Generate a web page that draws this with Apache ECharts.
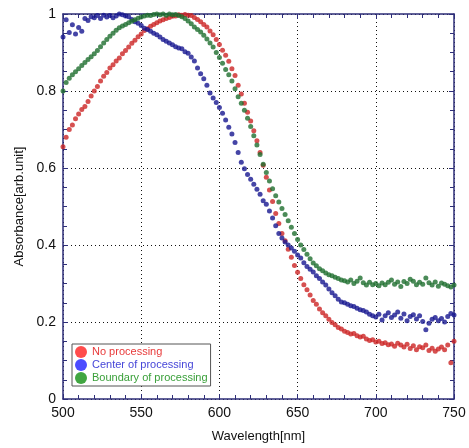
<!DOCTYPE html>
<html>
<head>
<meta charset="utf-8">
<script src="https://cdn.jsdelivr.net/npm/echarts@6/dist/echarts.min.js"></script>
<style>
    html, body { margin: 0; padding: 0; background: #fff; }
    #chart { width: 469px; height: 448px; }
</style>
</head>
<body>
<div id="chart"></div>
<script>
// wavelength grid, 2 nm steps
var wavelength = [];
for (var w = 500; w <= 750; w += 2) wavelength.push(w);

var seriesNames = ['No processing', 'Center of processing', 'Boundary of processing'];

var noProcessing = [
    0.655, 0.680, 0.700, 0.712, 0.728, 0.740, 0.752, 0.760, 0.773, 0.787,
    0.800, 0.812, 0.826, 0.838, 0.848, 0.860, 0.868, 0.878, 0.886, 0.897,
    0.905, 0.914, 0.924, 0.932, 0.941, 0.948, 0.957, 0.962, 0.968, 0.973,
    0.977, 0.982, 0.985, 0.988, 0.991, 0.994, 0.995, 0.998, 0.997, 0.999,
    0.997, 0.996, 0.991, 0.986, 0.980, 0.973, 0.966, 0.956, 0.946, 0.934,
    0.921, 0.906, 0.893, 0.877, 0.858, 0.840, 0.815, 0.792, 0.768, 0.745,
    0.722, 0.697, 0.671, 0.640, 0.607, 0.576, 0.543, 0.513, 0.482, 0.456,
    0.430, 0.411, 0.389, 0.368, 0.347, 0.329, 0.313, 0.297, 0.284, 0.270,
    0.256, 0.246, 0.234, 0.224, 0.216, 0.207, 0.199, 0.193, 0.186, 0.182,
    0.176, 0.173, 0.169, 0.170, 0.164, 0.161, 0.163, 0.156, 0.152, 0.154,
    0.148, 0.150, 0.144, 0.146, 0.141, 0.143, 0.137, 0.145, 0.140, 0.135,
    0.142, 0.131, 0.138, 0.128, 0.136, 0.133, 0.140, 0.126, 0.132, 0.124,
    0.130, 0.135, 0.128, 0.140, 0.094, 0.150
];
var centerProcessing = [
    0.940, 0.985, 0.952, 0.972, 0.948, 0.965, 0.955, 0.988, 0.983, 0.993,
    0.990, 0.996, 0.988, 0.997, 0.992, 0.996, 0.990, 0.995, 1.000, 0.998,
    0.995, 0.993, 0.986, 0.980, 0.976, 0.970, 0.963, 0.960, 0.955, 0.950,
    0.946, 0.940, 0.934, 0.929, 0.925, 0.920, 0.915, 0.912, 0.910, 0.902,
    0.898, 0.888, 0.878, 0.860, 0.845, 0.832, 0.815, 0.795, 0.782, 0.770,
    0.757, 0.742, 0.725, 0.706, 0.688, 0.666, 0.640, 0.615, 0.598, 0.583,
    0.571, 0.558, 0.545, 0.532, 0.515, 0.506, 0.488, 0.470, 0.450, 0.430,
    0.418, 0.408, 0.400, 0.392, 0.384, 0.374, 0.366, 0.354, 0.344, 0.337,
    0.330, 0.320, 0.313, 0.304, 0.296, 0.286, 0.276, 0.268, 0.259, 0.252,
    0.250, 0.246, 0.242, 0.240, 0.236, 0.232, 0.230, 0.226, 0.220, 0.216,
    0.213, 0.220, 0.205, 0.216, 0.224, 0.212, 0.218, 0.226, 0.210, 0.221,
    0.203, 0.214, 0.219, 0.208, 0.216, 0.201, 0.180, 0.197, 0.207, 0.212,
    0.203, 0.209, 0.200, 0.214, 0.222, 0.218
];
var boundaryProcessing = [
    0.800, 0.822, 0.833, 0.842, 0.850, 0.858, 0.866, 0.874, 0.882, 0.889,
    0.897, 0.905, 0.915, 0.925, 0.934, 0.942, 0.950, 0.958, 0.964, 0.969,
    0.973, 0.977, 0.981, 0.985, 0.989, 0.992, 0.995, 0.997, 0.996, 0.999,
    1.000, 0.998, 1.000, 0.997, 1.000, 0.998, 0.999, 0.996, 0.993, 0.988,
    0.982, 0.975, 0.966, 0.960, 0.953, 0.945, 0.935, 0.925, 0.914, 0.900,
    0.887, 0.872, 0.856, 0.842, 0.826, 0.806, 0.785, 0.768, 0.750, 0.729,
    0.708, 0.684, 0.660, 0.635, 0.610, 0.588, 0.566, 0.546, 0.528, 0.512,
    0.495, 0.479, 0.463, 0.446, 0.430, 0.414, 0.400, 0.388, 0.376, 0.364,
    0.353, 0.346, 0.338, 0.333, 0.327, 0.323, 0.320, 0.316, 0.313, 0.309,
    0.307, 0.304, 0.309, 0.300, 0.306, 0.314, 0.302, 0.296, 0.303, 0.297,
    0.300, 0.294, 0.301, 0.297, 0.303, 0.309, 0.298, 0.304, 0.292, 0.305,
    0.300, 0.311, 0.306, 0.297, 0.303, 0.298, 0.314, 0.302, 0.296, 0.304,
    0.293, 0.301, 0.298, 0.294, 0.291, 0.296
];

var dotColors = ['#cc2424', '#161690', '#1e6e2e'];
var legendIconColors = ['#ff1f1f', '#1f1fff', '#129012'];
var legendTextColors = ['#e83a3a', '#4646d8', '#3aa03a'];

function pairs(values) {
    return wavelength.map(function (x, i) { return [x, values[i]]; });
}

var frameColor = '#2e2e78';
var font = 'Liberation Sans, Arial, sans-serif';

var chart = echarts.init(document.getElementById('chart'));

function boxAxis(extra) {
    var base = {
        axisLine: { show: true, onZero: false, lineStyle: { color: frameColor, width: 1.5 } },
        axisTick: { show: true, inside: true, length: 5, lineStyle: { color: frameColor, width: 1 } },
        minorTick: { show: true, length: 4, lineStyle: { color: frameColor, width: 1 } },
        splitLine: { show: false },
        axisLabel: { show: false }
    };
    return Object.assign(base, extra);
}

var option = {
    backgroundColor: '#ffffff',
    animation: false,
    grid: { left: 63, right: 15, top: 14, bottom: 43 },
    legend: {
        orient: 'vertical',
        left: 72,
        top: 344,
        itemWidth: 12,
        itemHeight: 12,
        itemGap: 1,
        padding: [2, 3, 2, 3],
        backgroundColor: '#ffffff',
        borderColor: '#555555',
        borderWidth: 1,
        borderRadius: 0,
        icon: 'circle',
        textStyle: { fontFamily: font, fontSize: 11 },
        data: seriesNames.map(function (n, i) {
            return {
                name: n,
                itemStyle: { color: legendIconColors[i] },
                textStyle: { color: legendTextColors[i] }
            };
        })
    },
    xAxis: [
        boxAxis({
            type: 'value', min: 500, max: 750, interval: 50,
            minorTick: { show: true, splitNumber: 5, length: 4, lineStyle: { color: frameColor, width: 1 } },
            name: 'Wavelength[nm]', nameLocation: 'middle', nameGap: 31,
            nameTextStyle: { color: '#111', fontSize: 13, fontFamily: font },
            axisLabel: { show: true, color: '#111', fontSize: 14, fontFamily: font, margin: 7 },
            splitLine: { show: true, lineStyle: { color: '#111', type: [1, 3], width: 1 } }
        }),
        boxAxis({
            type: 'value', position: 'top', min: 500, max: 750, interval: 50,
            minorTick: { show: true, splitNumber: 5, length: 4, lineStyle: { color: frameColor, width: 1 } }
        })
    ],
    yAxis: [
        boxAxis({
            type: 'value', min: 0, max: 1, interval: 0.2,
            minorTick: { show: true, splitNumber: 4, length: 4, lineStyle: { color: frameColor, width: 1 } },
            name: 'Absorbance[arb.unit]', nameLocation: 'middle', nameGap: 35,
            nameTextStyle: { color: '#111', fontSize: 13, fontFamily: font },
            axisLabel: { show: true, color: '#111', fontSize: 14, fontFamily: font, margin: 7 },
            splitLine: { show: true, lineStyle: { color: '#111', type: [1, 3], width: 1 } }
        }),
        boxAxis({
            type: 'value', position: 'right', min: 0, max: 1, interval: 0.2,
            minorTick: { show: true, splitNumber: 4, length: 4, lineStyle: { color: frameColor, width: 1 } }
        })
    ],
    series: [noProcessing, centerProcessing, boundaryProcessing].map(function (vals, i) {
        return {
            name: seriesNames[i],
            type: 'scatter',
            xAxisIndex: 0,
            yAxisIndex: 0,
            symbol: 'circle',
            symbolSize: 5,
            itemStyle: { color: dotColors[i] },
            data: pairs(vals)
        };
    })
};

chart.setOption(option);
</script>
</body>
</html>
